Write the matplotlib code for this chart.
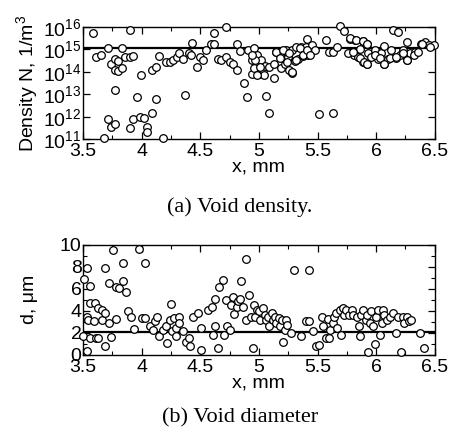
import numpy as np
import matplotlib
matplotlib.use("Agg")
import matplotlib.pyplot as plt
from matplotlib.ticker import MultipleLocator, LogLocator, NullLocator

plt.rcParams['font.family'] = ['Liberation Sans', 'DejaVu Sans']
plt.rcParams['mathtext.fontset'] = 'custom'
plt.rcParams['mathtext.rm'] = 'Liberation Sans'
plt.rcParams['mathtext.it'] = 'Liberation Sans:italic'

# (a) void density: x in mm, log10 of N
dens_x = [3.585, 3.61, 3.65, 3.71, 3.68, 3.71, 3.74, 3.77, 3.74, 3.77, 3.77, 3.80, 3.80, 3.83,
          3.83, 3.86, 3.77, 3.90, 3.90, 3.93, 3.90, 3.93, 3.96, 3.995, 3.99, 4.02, 4.05, 4.05,
          4.09, 4.12, 4.09, 4.12, 4.15, 4.18, 4.205, 4.24, 4.27, 4.30, 4.32, 4.35, 4.37, 4.40,
          4.42, 4.43, 4.47, 4.495, 4.52, 4.55, 4.59, 4.62, 4.62, 4.65, 4.68, 4.72, 4.72, 4.75,
          4.78, 4.81, 4.81, 4.84, 4.87, 4.90, 4.91, 4.94, 4.94, 4.96, 4.96, 4.98, 5.0, 5.02,
          5.035, 5.05, 5.06, 5.09, 5.09, 5.13, 5.13, 5.15, 5.18, 5.19, 5.22, 5.23, 5.25, 5.26,
          5.285, 5.28, 5.305, 5.32, 5.33, 5.36, 5.375, 5.39, 5.405, 5.42, 5.41, 5.45, 5.475,
          5.51, 5.57, 5.60, 5.63, 5.63, 5.67, 5.695, 5.73, 5.78, 5.79, 5.82, 5.81, 5.845, 5.86,
          5.89, 5.89, 5.92, 5.92, 5.93, 5.96, 5.99, 6.02, 6.04, 6.07, 6.07, 6.10, 6.13, 6.14,
          6.17, 6.19, 6.20, 6.23, 6.26, 6.26, 6.29, 6.33, 6.38, 6.42, 6.45, 6.49, 6.46,
          5.776, 5.83, 5.89, 5.92, 5.76, 5.80, 5.86, 5.90, 5.92, 5.99, 6.03, 6.07, 6.12, 6.17,
          6.23, 6.26, 6.32, 6.36, 6.39, 5.15, 5.18, 5.21, 5.24, 5.26, 5.28, 5.32, 5.35, 5.38,
          5.41, 5.44, 5.01, 4.97, 4.94, 5.04, 4.98]
dens_log = [15.73, 14.67, 14.74, 15.04, 11.04, 11.89, 11.56, 11.67, 14.33, 14.55, 14.08, 14.48,
            14.05, 14.18, 15.04, 14.64, 13.19, 15.85, 11.49, 11.90, 14.67, 14.71, 12.89, 13.88,
            12.0, 11.96, 11.56, 11.31, 12.15, 12.77, 14.08, 14.22, 14.70, 11.04, 14.45, 14.45,
            14.52, 14.67, 14.82, 14.57, 12.97, 14.82, 14.74, 15.29, 14.22, 14.67, 14.52, 14.96,
            15.26, 15.75, 15.22, 14.55, 14.52, 16.0, 14.64, 14.45, 14.37, 15.26, 14.08, 14.93,
            13.49, 12.86, 14.96, 13.9, 14.52, 15.04, 14.15, 14.74, 13.9, 14.52, 14.08, 14.27,
            12.92, 12.18, 14.22, 13.74, 14.37, 14.89, 14.74, 14.15, 14.37, 14.96, 14.67, 14.08,
            13.96, 14.96, 14.48, 15.11, 14.59, 15.11, 14.70, 14.89, 15.11, 14.74, 15.48, 15.19,
            14.96, 12.11, 15.41, 14.89, 14.89, 12.15, 15.11, 16.03, 15.81, 15.48, 14.89, 15.41,
            14.77, 14.67, 15.0, 15.38, 14.45, 15.22, 14.37, 14.82, 14.67, 14.96, 14.57, 14.82,
            15.16, 14.37, 14.59, 14.96, 15.88, 14.62, 15.78, 14.74, 14.96, 15.33, 14.52, 14.82,
            14.89, 15.26, 15.33, 15.19, 15.19, 15.11,
            15.53, 15.41, 15.38, 15.26, 14.82, 14.89, 14.60, 14.44, 14.34, 14.74, 14.60, 14.37,
            14.60, 14.67, 14.82, 14.52, 14.74, 14.89, 15.26, 14.89, 14.60, 14.96, 14.44, 14.82,
            14.0, 14.52, 15.04, 14.74, 14.96, 14.74, 14.22, 14.52, 14.74, 13.85, 13.85]
dens_level = 1.2e15

# (b) void diameter: x in mm, d in um
diam_x = [3.505, 3.534, 3.56, 3.5, 3.53, 3.53, 3.557, 3.54, 3.56, 3.60, 3.59, 3.61, 3.63, 3.63,
          3.66, 3.665, 3.685, 3.69, 3.69, 3.72, 3.72, 3.74, 3.755, 3.78, 3.785, 3.81, 3.845,
          3.845, 3.87, 3.88, 3.91, 3.935, 3.975, 4.0, 4.03, 4.03, 4.07, 4.10, 4.11, 4.13, 4.15,
          4.18, 4.21, 4.22, 4.24, 4.25, 4.26, 4.28, 4.29, 4.295, 4.32, 4.32, 4.35, 4.38, 4.405,
          4.41, 4.44, 4.48, 4.51, 4.51, 4.57, 4.60, 4.61, 4.63, 4.63, 4.655, 4.66, 4.69, 4.70,
          4.72, 4.725, 4.75, 4.765, 4.78, 4.79, 4.81, 4.82, 4.835, 4.85, 4.865, 4.89, 4.89,
          4.92, 4.93, 4.95, 4.96, 4.97, 4.98, 5.0, 5.01, 5.035, 5.05, 5.06, 5.08, 5.09, 5.11,
          5.12, 5.135, 5.15, 5.17, 5.18, 5.20, 5.21, 5.22, 5.23, 5.24, 5.27, 5.30, 5.36, 5.405,
          5.43, 5.425, 5.46, 5.485, 5.51, 5.54, 5.55, 5.575, 5.59, 5.60, 5.61, 5.63, 5.64,
          5.655, 5.67, 5.69, 5.70, 5.72, 5.73, 5.745, 5.77, 5.79, 5.80, 5.835, 5.85, 5.86,
          5.875, 5.89, 5.91, 5.92, 5.93, 5.95, 5.96, 5.975, 5.99, 6.0, 6.02, 6.03, 6.05, 6.06,
          6.07, 6.09, 6.12, 6.145, 6.17, 6.19, 6.21, 6.23, 6.24, 6.26, 6.28, 6.30, 6.37, 6.41]
diam_d = [6.88, 7.88, 6.30, 1.73, 3.42, 0.39, 1.52, 3.18, 4.7, 4.7, 3.03, 1.52, 4.30, 1.52,
          4.09, 3.18, 3.79, 7.88, 0.76, 6.52, 2.88, 1.61, 9.55, 6.21, 3.24, 6.06, 6.67, 8.39,
          5.67, 3.94, 3.48, 2.36, 9.61, 3.39, 8.39, 3.33, 2.58, 2.27, 3.03, 3.42, 1.67, 2.27,
          2.58, 1.06, 3.18, 4.64, 2.12, 3.39, 2.42, 1.67, 3.42, 2.88, 2.12, 1.21, 1.52, 0.76,
          3.48, 3.79, 0.45, 2.42, 4.03, 4.33, 1.82, 2.58, 5.09, 0.61, 6.21, 6.82, 1.82, 5.0,
          2.58, 2.27, 4.55, 5.30, 3.73, 4.33, 4.85, 5.06, 6.73, 4.33, 8.70, 3.18, 5.45, 3.48,
          0.61, 4.55, 3.48, 4.09, 3.94, 3.18, 4.24, 3.64, 3.18, 3.48, 2.58, 3.79, 3.18, 3.48,
          2.88, 3.33, 2.58, 3.18, 1.21, 2.27, 3.18, 2.73, 1.97, 7.67, 1.67, 3.03, 3.03, 7.67,
          2.18, 0.76, 0.91, 3.48, 2.58, 1.52, 3.24, 1.52, 2.27, 2.88, 3.48, 3.79, 2.42, 4.09,
          1.82, 4.24, 3.64, 4.09, 3.64, 4.09, 3.64, 3.48, 2.58, 1.67, 3.64, 4.09, 3.18, 3.64,
          0.30, 2.88, 3.94, 2.58, 1.0, 3.48, 4.09, 1.82, 2.88, 4.09, 3.64, 3.18, 3.48, 3.79,
          1.97, 3.48, 0.30, 3.48, 2.88, 3.48, 3.03, 3.18, 1.97, 0.61]
diam_level = 2.1

fig = plt.figure(figsize=(4.51, 4.28), dpi=100)
ax1 = fig.add_axes([0.184, 0.675, 0.780, 0.262])
ax2 = fig.add_axes([0.184, 0.171, 0.780, 0.257])

mk = dict(marker='o', linestyle='none', markersize=5.5, markerfacecolor='white',
          markeredgecolor='black', markeredgewidth=0.9, clip_on=False, zorder=3)

ax1.plot(dens_x, 10.0 ** np.array(dens_log), **mk)
ax1.axhline(dens_level, color='black', lw=1.6, zorder=2)
ax1.set_yscale('log')
ax1.set_ylim(1e11, 1e16)
ax1.yaxis.set_major_locator(LogLocator(base=10, numticks=10))
ax1.yaxis.set_minor_locator(NullLocator())
ax1.set_ylabel('Density N, 1/m$^3$', fontsize=14, labelpad=2)

ax2.plot(diam_x, diam_d, **mk)
ax2.axhline(diam_level, color='black', lw=1.6, zorder=2)
ax2.set_ylim(0, 10)
ax2.yaxis.set_major_locator(MultipleLocator(2))
ax2.yaxis.set_minor_locator(MultipleLocator(1))
ax2.set_ylabel('d, \u03bcm', fontsize=14, labelpad=16)

for ax in (ax1, ax2):
    ax.set_xlim(3.5, 6.5)
    ax.xaxis.set_minor_locator(MultipleLocator(0.25))
    ax.set_xticks([3.5, 4, 4.5, 5, 5.5, 6, 6.5])
    ax.set_xticklabels(['3.5', '4', '4.5', '5', '5.5', '6', '6.5'])
    ax.tick_params(which='both', direction='in', top=True, right=True, labelsize=14)
    ax.tick_params(axis='x', pad=3)
    ax.tick_params(axis='y', pad=1)
    ax.tick_params(which='major', length=5, width=0.9)
    ax.tick_params(which='minor', length=3, width=0.8)
    ax.set_xlabel('x, mm', fontsize=14, labelpad=-1)
    for s in ax.spines.values():
        s.set_linewidth(1.0)

fig.text(0.532, 1 - 207 / 428, '(a) Void density.', family='Liberation Serif',
         fontsize=16, ha='center', va='center')
fig.text(0.532, 1 - 418 / 428, '(b) Void diameter', family='Liberation Serif',
         fontsize=16, ha='center', va='center')

fig.savefig('out.png', dpi=100)
